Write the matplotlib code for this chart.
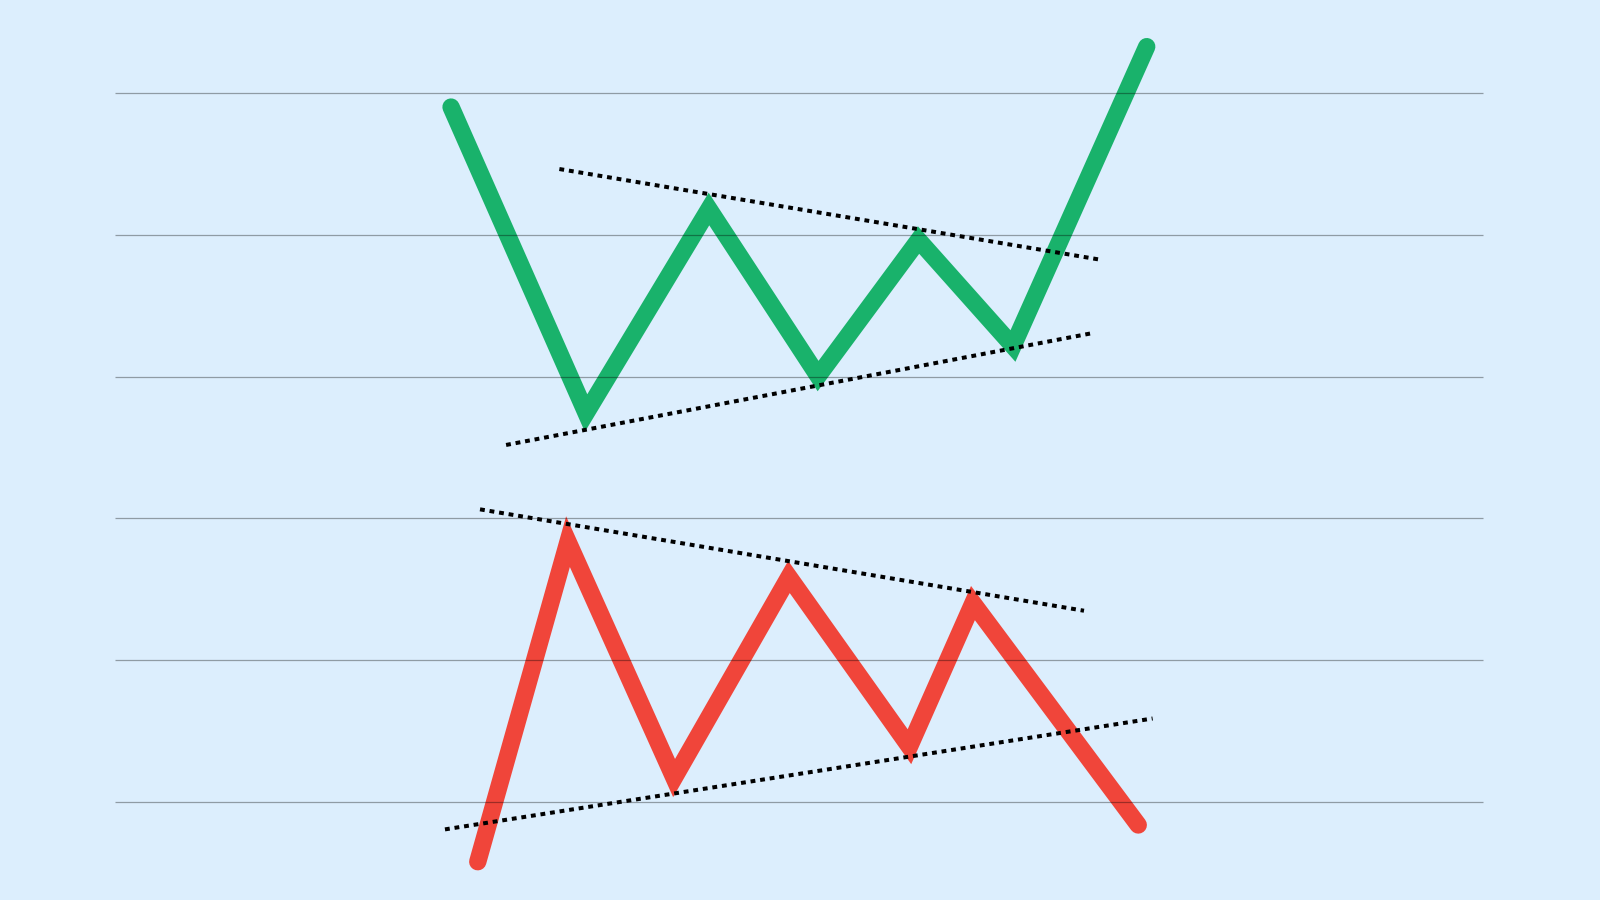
import matplotlib
matplotlib.use("Agg")
import matplotlib.pyplot as plt
import numpy as np

# colours
bg = "#DCEEFD"
green = "#19B26B"
red = "#F0453A"

# horizontal guide levels
grid_levels = [0, 1, 2, 3, 4, 5]
grid_x = [7.2, 92.7]

# bullish pattern (green)
green_x = [28.19, 36.63, 44.31, 51.13, 57.41, 63.31, 71.67]
green_y = [4.901, 2.743, 4.182, 3.004, 3.963, 3.216, 5.327]
green_top_x = [34.96, 68.64]
green_top_y = [4.464, 3.827]
green_bot_x = [31.63, 68.19]
green_bot_y = [2.518, 3.305]

# bearish pattern (red)
red_x = [29.86, 35.50, 42.13, 49.31, 56.84, 60.81, 71.14]
red_y = [-0.421, 1.836, 0.169, 1.587, 0.390, 1.403, -0.162]
red_top_x = [30.00, 67.75]
red_top_y = [2.064, 1.349]
red_bot_x = [27.81, 72.04]
red_bot_y = [-0.193, 0.589]

fig = plt.figure(figsize=(16, 9), dpi=100)
fig.patch.set_facecolor(bg)
ax = fig.add_axes([0, 0, 1, 1])
ax.set_facecolor(bg)
ax.set_xlim(0, 100)
ax.set_ylim(-0.691, 5.656)
ax.axis("off")

# price paths
for xs, ys, c in [(green_x, green_y, green), (red_x, red_y, red)]:
    ax.plot(xs, ys, color=c, linewidth=12.5, solid_joinstyle="miter",
            solid_capstyle="round", zorder=2)

# trend lines
for xs, ys in [(green_top_x, green_top_y), (green_bot_x, green_bot_y),
               (red_top_x, red_top_y), (red_bot_x, red_bot_y)]:
    ax.plot(xs, ys, color="black", linewidth=2.9, dashes=(1.2, 1.2),
            dash_capstyle="butt", zorder=3)

# guide lines drawn on top, semi-transparent
ax.hlines(grid_levels, grid_x[0], grid_x[1], color="black", alpha=0.35,
          linewidth=0.9, zorder=4)

plt.savefig("out.png", dpi=100, facecolor=bg)
